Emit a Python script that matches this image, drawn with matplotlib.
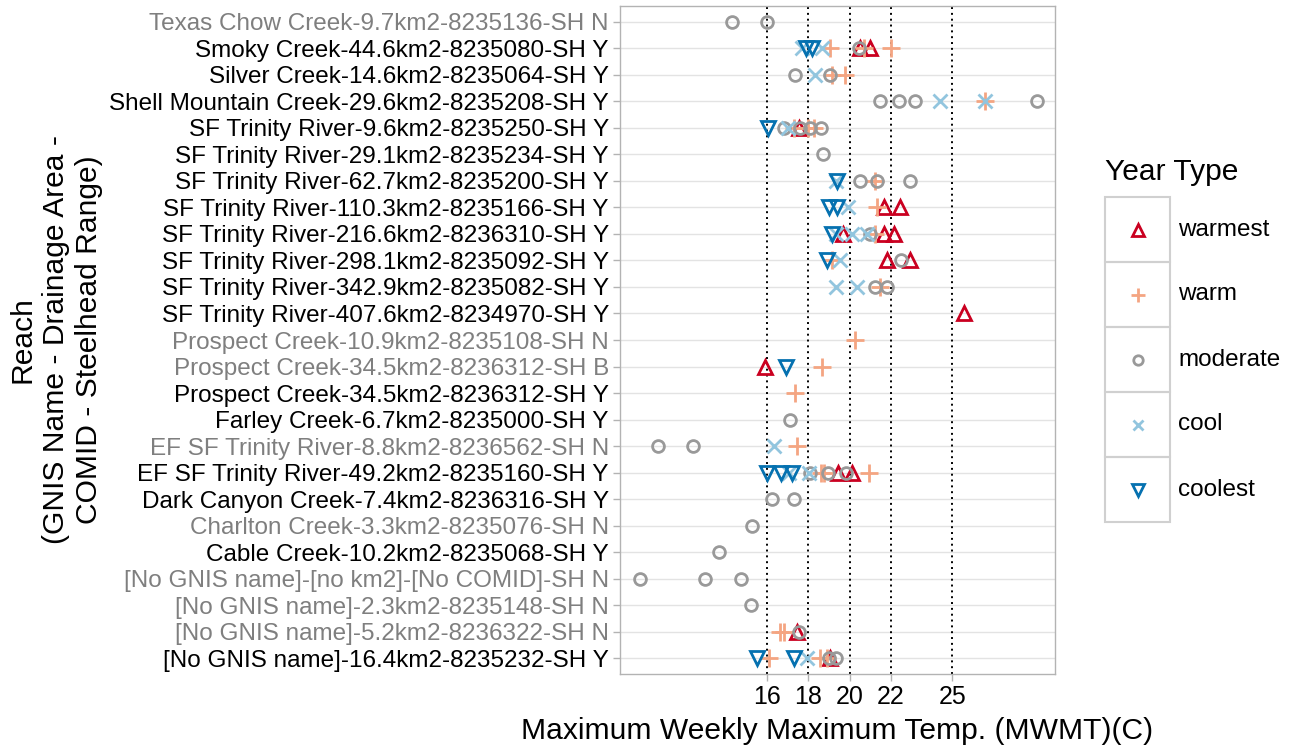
import matplotlib
matplotlib.use("Agg")
import matplotlib.pyplot as plt
from matplotlib.patches import Rectangle
from matplotlib.lines import Line2D

plt.rcParams['font.family'] = ['Liberation Sans', 'DejaVu Sans']

# Reaches, top to bottom
reaches = [
    "Texas Chow Creek-9.7km2-8235136-SH N",
    "Smoky Creek-44.6km2-8235080-SH Y",
    "Silver Creek-14.6km2-8235064-SH Y",
    "Shell Mountain Creek-29.6km2-8235208-SH Y",
    "SF Trinity River-9.6km2-8235250-SH Y",
    "SF Trinity River-29.1km2-8235234-SH Y",
    "SF Trinity River-62.7km2-8235200-SH Y",
    "SF Trinity River-110.3km2-8235166-SH Y",
    "SF Trinity River-216.6km2-8236310-SH Y",
    "SF Trinity River-298.1km2-8235092-SH Y",
    "SF Trinity River-342.9km2-8235082-SH Y",
    "SF Trinity River-407.6km2-8234970-SH Y",
    "Prospect Creek-10.9km2-8235108-SH N",
    "Prospect Creek-34.5km2-8236312-SH B",
    "Prospect Creek-34.5km2-8236312-SH Y",
    "Farley Creek-6.7km2-8235000-SH Y",
    "EF SF Trinity River-8.8km2-8236562-SH N",
    "EF SF Trinity River-49.2km2-8235160-SH Y",
    "Dark Canyon Creek-7.4km2-8236316-SH Y",
    "Charlton Creek-3.3km2-8235076-SH N",
    "Cable Creek-10.2km2-8235068-SH Y",
    "[No GNIS name]-[no km2]-[No COMID]-SH N",
    "[No GNIS name]-2.3km2-8235148-SH N",
    "[No GNIS name]-5.2km2-8236322-SH N",
    "[No GNIS name]-16.4km2-8235232-SH Y",
]

# MWMT observations by year type: reach index (0 = top row) and value (C)
warmest_reach = [1, 1, 4, 7, 7, 8, 8, 8, 9, 9, 11, 13, 17, 17, 23, 24]
warmest_mwmt = [20.53, 20.98, 17.53, 21.66, 22.44, 19.69, 21.66, 22.15,
                21.83, 22.92, 25.55, 15.88, 19.43, 20.13, 17.46, 19.04]

warm_reach = [1, 1, 1, 2, 2, 3, 4, 4, 4, 6, 7, 8, 9, 10, 12, 13, 14, 16,
              17, 17, 17, 23, 23, 24, 24, 24]
warm_mwmt = [19.04, 20.72, 22.03, 19.15, 19.80, 26.60, 17.30, 17.97, 18.26,
             21.26, 21.34, 21.26, 19.15, 21.50, 20.29, 18.67, 17.37, 17.46,
             18.59, 18.78, 20.93, 16.61, 16.81, 16.08, 18.55, 18.88]

moderate_reach = [0, 0, 1, 2, 2, 3, 3, 3, 3, 4, 4, 4, 4, 5, 6, 6, 6, 8, 9,
                  10, 10, 15, 16, 16, 17, 17, 17, 18, 18, 19, 20, 21, 21, 21,
                  22, 23, 24, 24]
moderate_mwmt = [14.30, 16.00, 20.48, 17.37, 19.07, 21.47, 22.39, 23.20,
                 29.14, 16.80, 17.60, 18.10, 18.59, 18.70, 20.53, 21.34,
                 22.96, 20.98, 22.52, 21.26, 21.83, 17.10, 10.69, 12.36,
                 18.10, 18.94, 19.85, 16.24, 17.29, 15.27, 13.65, 9.80,
                 12.96, 14.70, 15.19, 17.53, 18.99, 19.32]

cool_reach = [1, 1, 2, 3, 3, 4, 6, 7, 8, 8, 8, 9, 10, 10, 16, 17, 17, 24]
cool_mwmt = [17.70, 18.67, 18.34, 24.38, 26.60, 17.00, 19.32, 19.93, 19.32,
             20.13, 20.85, 19.56, 19.32, 20.34, 16.32, 17.05, 18.02, 17.94]

coolest_reach = [1, 1, 4, 6, 7, 7, 8, 9, 13, 17, 17, 17, 24, 24]
coolest_mwmt = [17.86, 18.18, 16.05, 19.40, 18.99, 19.40, 19.15, 18.91,
                16.92, 15.97, 16.65, 17.21, 15.51, 17.29]

reference_temps = [16, 18, 20, 22, 25]
year_types = ["warmest", "warm", "moderate", "cool", "coolest"]

styles = {
    "warmest": dict(marker="^", color="#CA0020", ms=10.5, mew=2.0, fill=False),
    "warm": dict(marker="+", color="#F4A582", ms=13, mew=2.0, fill=True),
    "moderate": dict(marker="o", color="#999999", ms=8.5, mew=2.0, fill=False),
    "cool": dict(marker="x", color="#92C5DE", ms=9.5, mew=2.0, fill=True),
    "coolest": dict(marker="v", color="#0571B0", ms=10.5, mew=2.0, fill=False),
}
series = {
    "warmest": (warmest_reach, warmest_mwmt),
    "warm": (warm_reach, warm_mwmt),
    "moderate": (moderate_reach, moderate_mwmt),
    "cool": (cool_reach, cool_mwmt),
    "coolest": (coolest_reach, coolest_mwmt),
}

W, H = 1293, 746
fig = plt.figure(figsize=(W / 100, H / 100), dpi=100)
ax = fig.add_axes([620 / W, (H - 674) / H, (1055 - 620) / W, (674 - 6) / H])

n = len(reaches)
ypos = {i: n - 1 - i for i in range(n)}

# horizontal grid
for i in range(n):
    ax.axhline(ypos[i], color="#E3E3E3", lw=1.0, zorder=0)

# reference temperature lines
for t in reference_temps:
    ax.axvline(t, color="black", lw=1.4, ls=(0, (1, 2)), zorder=1)

for yt in year_types:
    r, v = series[yt]
    st = styles[yt]
    ax.plot(v, [ypos[i] for i in r], ls="none", marker=st["marker"],
            ms=st["ms"], mew=st["mew"], color=st["color"],
            mfc=st["color"] if st["fill"] else "none", zorder=3)

ax.set_xlim(8.83, 30.0)
ax.set_ylim(-0.6, n - 0.4)
ax.set_yticks([ypos[i] for i in range(n)])
ax.set_yticklabels(reaches, fontsize=17.5)
ax.set_xticks(reference_temps)
ax.set_xticklabels([str(t) for t in reference_temps], fontsize=18)
ax.tick_params(axis="both", color="#B3B3B3", length=5, width=1, pad=3)
for lab, name in zip(ax.get_yticklabels(), reaches):
    lab.set_color("black" if name.endswith(" Y") else "#7F7F7F")
for lab in ax.get_xticklabels():
    lab.set_color("black")
for sp in ax.spines.values():
    sp.set_color("#B3B3B3")
    sp.set_linewidth(1.0)

ax.set_xlabel("Maximum Weekly Maximum Temp. (MWMT)(C)", fontsize=21.6, labelpad=6)
fig.text(56 / W, 1 - 340 / H,
         "Reach\n(GNIS Name - Drainage Area -\nCOMID - Steelhead Range)",
         rotation=90, ha="center", va="center", multialignment="center",
         fontsize=21.6, linespacing=1.25)

# legend
fig.text(1105 / W, 1 - 172 / H, "Year Type", fontsize=21.6, ha="left", va="center")
box_top, box_h, box_l, box_w = 197, 65, 1105, 65
for k, yt in enumerate(year_types):
    top = box_top + k * box_h
    fig.add_artist(Rectangle((box_l / W, 1 - (top + box_h) / H), box_w / W, box_h / H,
                             transform=fig.transFigure, fill=False,
                             edgecolor="#D0D0D0", lw=1.5))
    st = styles[yt]
    cy = 1 - (top + box_h / 2) / H
    fig.add_artist(Line2D([(box_l + box_w / 2) / W], [cy], transform=fig.transFigure,
                          ls="none", marker=st["marker"], ms=st["ms"] * 0.8,
                          mew=st["mew"], color=st["color"],
                          mfc=st["color"] if st["fill"] else "none"))
    fig.text(1178 / W, cy, yt, fontsize=17.5, ha="left", va="center")

fig.savefig("out.png", dpi=100)
